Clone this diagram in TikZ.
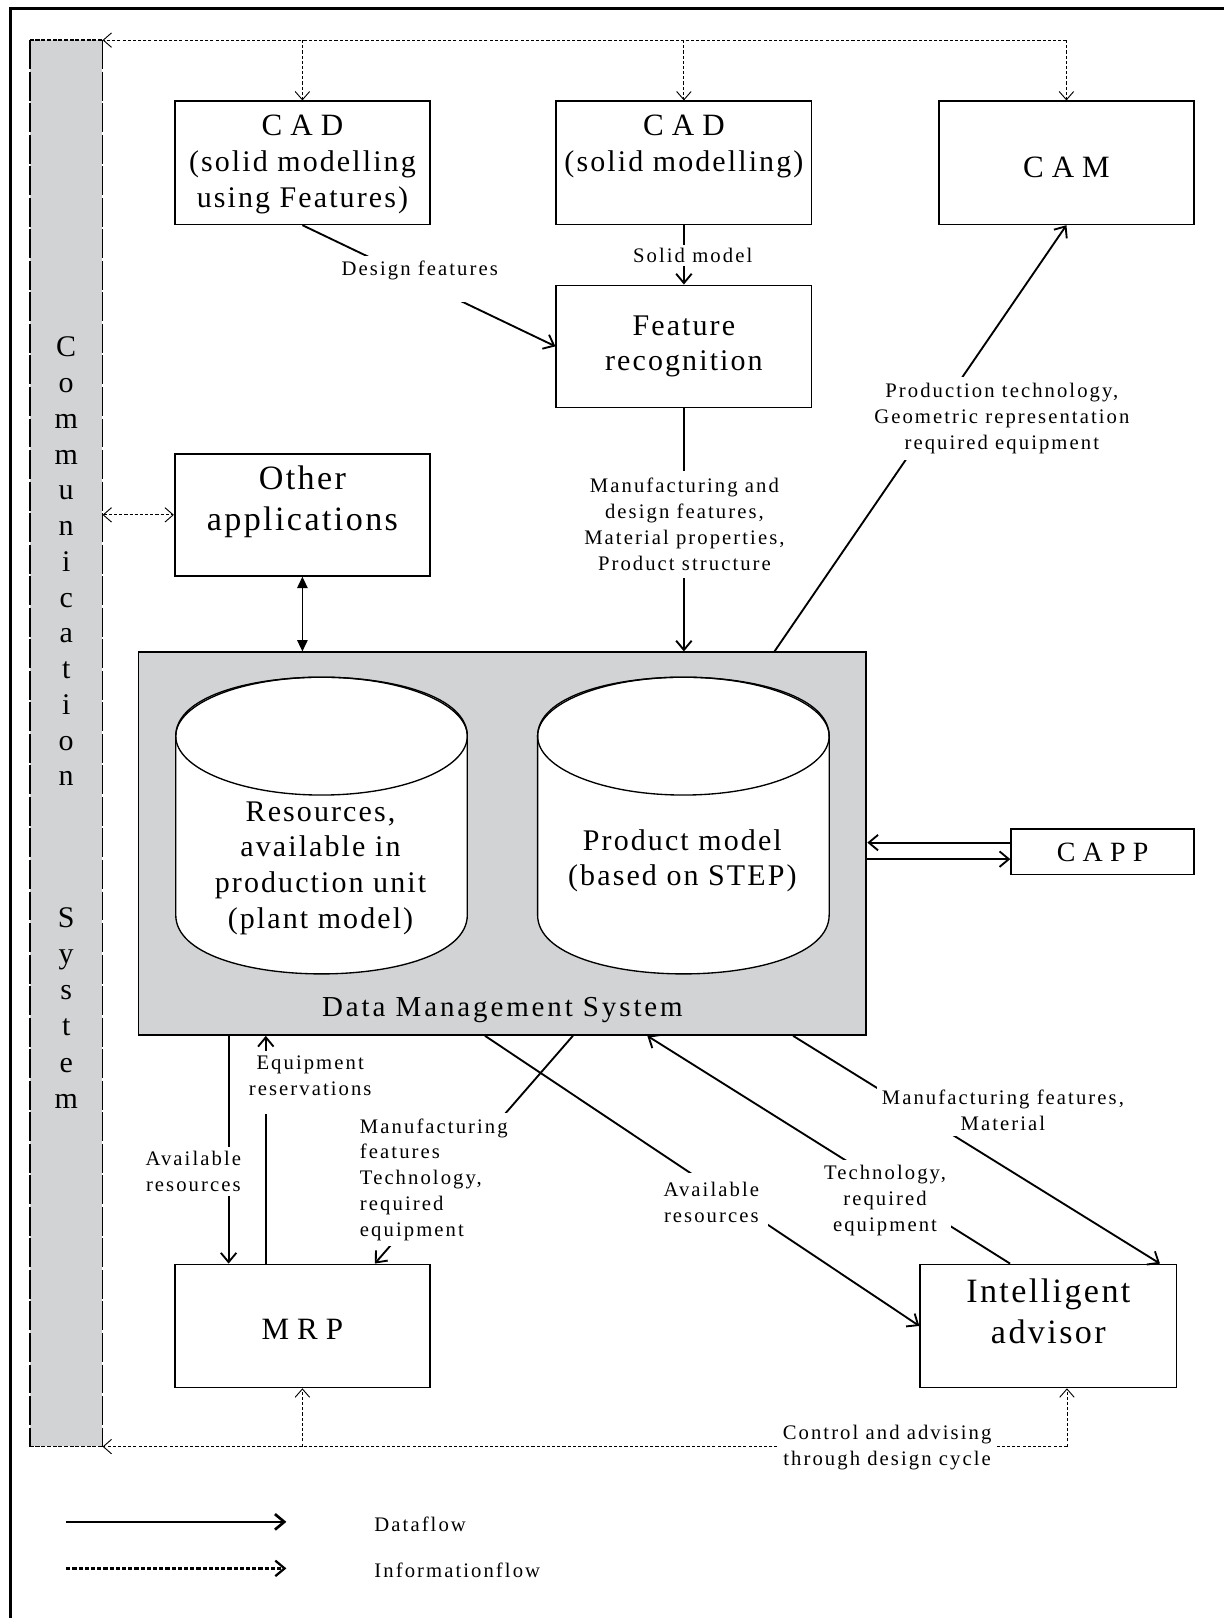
\documentclass[tikz,border=0pt]{standalone}
\usepackage{fontspec}
\setmainfont{Liberation Serif}
\newfontfamily\lsLbl[LetterSpace=10]{Liberation Serif}
\newfontfamily\lsBox[LetterSpace=7]{Liberation Serif}
\newfontfamily\lsAcr[LetterSpace=26]{Liberation Serif}
\newfontfamily\lsPlain{Liberation Serif}
\usetikzlibrary{arrows.meta,calc}
\definecolor{dmsgrey}{RGB}{209,211,212}
\newcommand\myLbl{\lsLbl\fontsize{20}{25}\selectfont}
\newcommand\myBox{\lsBox\fontsize{29}{34.5}\selectfont}
\newcommand\myBig{\lsBox\fontsize{33}{39.5}\selectfont}
\newcommand\myAcr{\lsAcr\fontsize{30}{34}\selectfont}
\newcommand\myDms{\lsLbl\fontsize{28}{32}\selectfont}
\newcommand\myBar{\lsPlain\fontsize{29}{34}\selectfont}
\begin{document}
\begin{tikzpicture}[x=1pt,y=-1pt,
  box/.style={draw, line width=1.6pt, inner sep=0pt, minimum width=247pt, minimum height=119pt},
  btxt/.style={align=center, inner sep=0pt, font=\myBox},
  lbl/.style={fill=white, align=center, inner sep=5pt, font=\myLbl},
  dat/.style={line width=1.8pt, -{Straight Barb[length=9pt,width=15pt]}},
  dattwo/.style={line width=1.6pt, {Triangle[length=11pt,width=10pt]}-{Triangle[length=11pt,width=10pt]}},
  inf/.style={line width=0.9pt, dash pattern=on 3pt off 2pt, -{Straight Barb[length=8pt,width=14pt]}},
  infboth/.style={line width=0.9pt, dash pattern=on 3pt off 2pt, {Straight Barb[length=8pt,width=14pt]}-{Straight Barb[length=8pt,width=14pt]}},
]
\useasboundingbox (0,0) rectangle (1183,1565);
% outer frame
\draw[line width=2.8pt] (10,1566) -- (10,8) -- (1184,8);

% communication bar
\node[fill=dmsgrey, minimum width=70pt, minimum height=1360pt, inner sep=0pt] (comm) at (64,719) {};
\draw[line width=1.5pt, dash pattern=on 28pt off 2.5pt] (comm.north west) -- (comm.south west);
\draw[line width=1.5pt, dash pattern=on 28pt off 2.5pt] (comm.north east) -- (comm.south east);
\draw[line width=1.5pt, dash pattern=on 4pt off 1.5pt] (comm.north west) -- (comm.north east);
\draw[line width=1.5pt, dash pattern=on 4pt off 1.5pt] (comm.south west) -- (comm.south east);
\foreach \ch [count=\i from 0] in {C,o,m,m,u,n,i,c,a,t,i,o,n}
  \node[font=\myBar, anchor=base, inner sep=0pt] (cA\i) at (64,{345+34.6*\i}) {\ch};
\foreach \ch [count=\i from 0] in {S,y,s,t,e,m}
  \node[font=\myBar, anchor=base, inner sep=0pt] (cB\i) at (64,{897+35*\i}) {\ch};

% boxes
\node[box] (cad1) at (292.5,157.5) {};
\node[box] (cad2) at (661.5,157.5) {};
\node[box] (cam) at (1031.5,157.5) {};
\node[box, minimum height=118pt] (fr) at (661.5,335) {};
\node[box, minimum height=118pt] (oth) at (292.5,498) {};
\node[box] (mrp) at (292.5,1282.5) {};
\node[box, minimum width=248pt] (ia) at (1014,1282.5) {};
\node[box, minimum width=177pt, minimum height=44pt] (capp) at (1066.5,824) {};

% DMS
\node[draw, fill=dmsgrey, line width=1.8pt, minimum width=704pt, minimum height=370pt, inner sep=0pt] (dms) at (486,816) {};
\foreach \cx in {311,661}{
  \filldraw[fill=white, line width=1.3pt] (\cx-141,712) -- (\cx-141,885)
     .. controls (\cx-141,961) and (\cx+141,961) .. (\cx+141,885) -- (\cx+141,712)
     .. controls (\cx+141,636) and (\cx-141,636) .. (\cx-141,712) -- cycle;
  \draw[line width=1.3pt] (\cx,712) ellipse [x radius=141, y radius=57];
}

% box texts
\node[btxt] (cad1t) at (292.5,159) {{\myAcr CAD}\\(solid modelling\\using Features)};
\node[btxt] (cad2t) at (661.5,141.5) {{\myAcr CAD}\\(solid modelling)};
\node[btxt, font=\myAcr] (camt) at (1031.5,162) {CAM};
\node[btxt] (frt) at (661.5,335) {Feature\\recognition};
\node[btxt, font=\myBig] (otht) at (292.5,485) {Other\\applications};
\node[btxt, font=\myAcr] (mrpt) at (292.5,1286) {MRP};
\node[btxt, font=\myBig] (iat) at (1014,1268) {Intelligent\\advisor};
\node[btxt, font=\lsAcr\fontsize{27}{30}\selectfont] (cappt) at (1066.5,824) {CAPP};
\node[btxt] (cyl1t) at (310,839.5) {Resources,\\available in\\production unit\\(plant model)};
\node[btxt] (cyl2t) at (660,832.5) {Product model\\(based on STEP)};
\node[btxt, font=\myDms] (dmst) at (486,977) {Data Management System};

% named points on DMS
\coordinate (dT) at ([xshift=616pt]dms.north west);
\coordinate (dA) at ([xshift=88pt]dms.south west);
\coordinate (dB) at ([xshift=124pt]dms.south west);
\coordinate (dC) at ([xshift=336pt]dms.south west);
\coordinate (dD) at ([xshift=421pt]dms.south west);
\coordinate (dE) at ([xshift=493pt]dms.south west);
\coordinate (dF) at ([xshift=634pt]dms.south west);
\coordinate (cU) at ([yshift=9pt]capp.west);
\coordinate (cL) at ([yshift=-7pt]capp.west);
\coordinate (iaB) at ([xshift=18pt]ia.south);

% information flow (dashed)
\coordinate (tR) at (cam.north |- comm.north);
\draw[inf] (tR) -- (comm.north east);
\draw[inf] (tR) -- (cam.north);
\draw[inf] (cad1.north |- comm.north) -- (cad1.north);
\draw[inf] (cad2.north |- comm.north) -- (cad2.north);
\draw[infboth] (oth.west -| comm.east) -- (oth.west);
\coordinate (bR) at (iaB |- comm.south);
\draw[inf] (bR) -- (comm.south east);
\draw[inf] (bR) -- (iaB);
\draw[inf] (mrp.south |- comm.south) -- (mrp.south);

% data flow
\draw[dat] (cad2.south) -- (fr.north);
\draw[dat] (cad1.south) -- (fr.west);
\draw[dat] (fr.south) -- (fr.south |- dms.north);
\draw[dat] (dT) -- (cam.south);
\draw[dattwo] (oth.south) -- (oth.south |- dms.north);
\draw[dat] (cU) -- (cU -| dms.east);
\draw[dat] (cL -| dms.east) -- (cL);
\draw[dat] (dA) -- (dA |- mrp.north);
\draw[dat] (dB |- mrp.north) -- (dB);
\draw[dat] (dD) -- ([xshift=70pt]mrp.north);
\draw[dat] (dC) -- (ia.west);
\draw[dat] ([xshift=-37pt]ia.north) -- (dE);
\draw[dat] (dF) -- ([xshift=108pt]ia.north);

% labels
\node[lbl, inner sep=3pt] (lSolid) at (670,247) {Solid model};
\node[lbl, anchor=north, text depth=21pt] (lDesign) at (406,247) {Design features};
\node[lbl, inner sep=7pt] (lMfgDes) at (662,507) {Manufacturing and\\design features,\\Material properties,\\Product structure};
\node[lbl, inner sep=6pt] (lProd) at (969,405) {Production technology,\\Geometric representation\\required equipment};
\node[lbl, anchor=north, text depth=13pt] (lEquip) at (300,1016) {Equipment\\reservations};
\node[lbl, inner sep=4pt] (lAvailA) at (187,1133) {Available\\resources};
\node[lbl, align=left, anchor=west] (lMfgA) at (343,1141) {Manufacturing\\features\\Technology,\\required\\equipment};
\node[lbl, inner sep=9pt] (lAvailB) at (688,1163) {Available\\resources};
\node[lbl] (lTech) at (856,1161) {Technology,\\required\\equipment};
\node[lbl] (lMfgB) at (970,1074) {Manufacturing features,\\Material};
\node[lbl] (lCtrl) at (858,1400) {Control and advising\\through design cycle};

% legend
\coordinate (lgA) at (64,1472);
\coordinate (lgB) at (277,1472);
\coordinate (lgC) at (64,1517);
\coordinate (lgD) at (277,1517);
\draw[line width=2.6pt, -{Straight Barb[length=9pt,width=15pt]}] (lgA) -- (lgB);
\draw[line width=2.2pt, dash pattern=on 4pt off 2pt, -{Straight Barb[length=9pt,width=15pt]}] (lgC) -- (lgD);
\node[font=\myLbl, anchor=west, inner sep=0pt] (lgT1) at (362,1474) {Dataflow};
\node[font=\myLbl, anchor=west, inner sep=0pt] (lgT2) at (362,1519) {Informationflow};
\end{tikzpicture}
\end{document}
